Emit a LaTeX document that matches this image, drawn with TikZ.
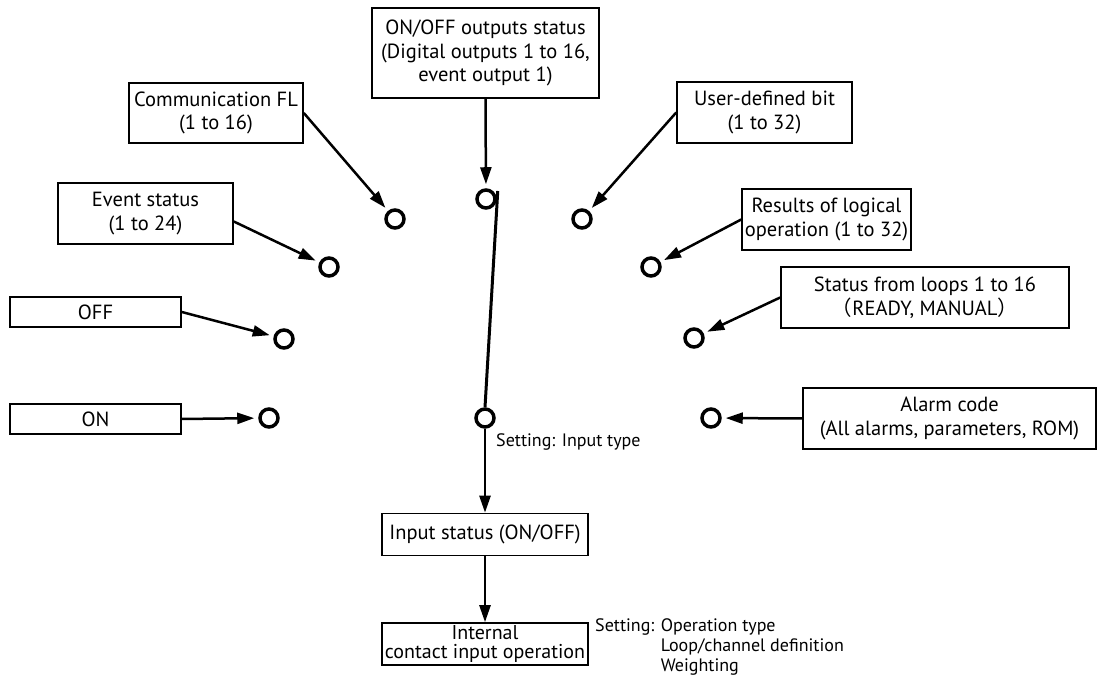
\documentclass[tikz,border=0pt]{standalone}
\usepackage{fontspec}
\setmainfont{PT Sans}
\newfontfamily\cjk{Noto Sans CJK JP}
\usetikzlibrary{arrows.meta}

\begin{document}
\begin{tikzpicture}[x=1pt, y=1pt,
	every node/.style={font=\fontsize{20.5}{23.5}\selectfont},
	box/.style={draw, line width=1.6pt, align=center, inner sep=0pt},
	contact/.style={circle, draw, line width=3.5pt, minimum size=18pt, inner sep=0pt},
	feed/.style={line width=2.5pt, -{Triangle[length=17pt, width=11pt]}, shorten >=4pt},
	flow/.style={line width=2.5pt, -{Triangle[length=17pt, width=11pt]}},
	note/.style={font=\fontsize{18}{20}\selectfont, inner sep=0pt, align=left}]
	
	\useasboundingbox (0,0) rectangle (1097,692);
	
	% --- source boxes, left side ---
	\node[box, minimum width=174pt, minimum height=60pt] (commfl) at (216,579) {Communication FL\\(1 to 16)};
	\node[box, minimum width=175pt, minimum height=61pt] (evstat) at (145.5,478.5) {Event status\\(1 to 24)};
	\node[box, minimum width=171pt, minimum height=30pt] (fixoff) at (95.5,380) {OFF};
	\node[box, minimum width=171pt, minimum height=30pt] (fixon)  at (95.5,273) {ON};
	
	% --- source boxes, top and right side ---
	\node[box, minimum width=227pt, minimum height=90pt] (dostat) at (485.5,639) {ON/OFF outputs status\\(Digital outputs 1 to 16,\\event output 1)};
	\node[box, minimum width=175pt, minimum height=61pt] (ubit)   at (764.5,579.5) {User-defined bit\\(1 to 32)};
	\node[box, minimum width=169pt, minimum height=61pt] (logic)  at (826.5,472.5) {Results of logical\\operation (1 to 32)};
	\node[box, minimum width=288pt, minimum height=61pt] (loops)  at (925,394.5) {Status from loops 1 to 16\\{\cjk （}READY, MANUAL{\cjk ）}};
	\node[box, minimum width=293pt, minimum height=61pt] (alarm)  at (949.5,273.5) {Alarm code\\(All alarms, parameters, ROM)};
	
	% --- selector contacts ---
	\node[contact] (c1)  at (395,473) {};
	\node[contact] (c2)  at (486,493) {};
	\node[contact] (c3)  at (582,473) {};
	\node[contact] (c4)  at (329,425) {};
	\node[contact] (c5)  at (651,425) {};
	\node[contact] (c6)  at (284,353) {};
	\node[contact] (c7)  at (694,354) {};
	\node[contact] (c8)  at (269,274) {};
	\node[contact] (c9)  at (711,274) {};
	\node[contact] (com) at (485,274) {};
	
	% --- result chain ---
	\node[box, minimum width=206pt, minimum height=42pt] (instat) at (485,157.5) {Input status (ON/OFF)};
	\node[box, minimum width=206pt, minimum height=42pt, font=\fontsize{20}{19}\selectfont] (intop) at (485,48) {Internal\\contact input operation};
	
	% settings
	\node[note, anchor=west] (setin) at (496,250) {Setting: Input type};
	\node[note, anchor=north west] (setop) at (595,74) {Setting: Operation type\\
		\hphantom{Setting: }Loop/channel definition\\
		\hphantom{Setting: }Weighting};
	
	% --- arrows into the contacts ---
	\draw[feed] (commfl.east) -- (c1);
	\draw[feed] (dostat.south) -- (c2);
	\draw[feed] (ubit.west) -- (c3);
	\draw[feed] ([yshift=-8pt]evstat.east) -- (c4);
	\draw[feed] (logic.west) -- (c5);
	\draw[feed] (fixoff.east) -- (c6);
	\draw[feed] (loops.west) -- (c7);
	\draw[feed] (fixon.east) -- (c8);
	\draw[feed] (alarm.west) -- (c9);
	
	% switch lever
	\draw[line width=3pt] ([xshift=1pt, yshift=8pt]c2.east) -- (com.north);
	
	\draw[flow] (com.south) -- (instat.north);
	\draw[flow] (instat.south) -- (intop.north);
	
\end{tikzpicture}
\end{document}
